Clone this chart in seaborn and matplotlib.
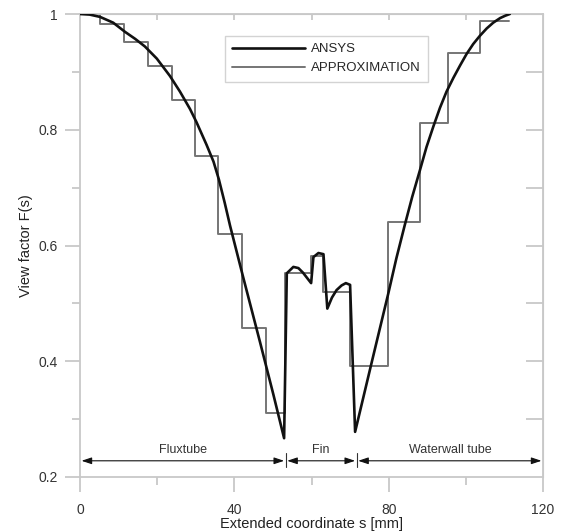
import matplotlib
matplotlib.use("Agg")
import matplotlib.pyplot as plt
import seaborn as sns
import pandas as pd

# ANSYS curve
ansys_s = [0.0, 2.5, 5.2, 8.6, 11.7, 14.3, 16.8, 19.9, 23.3, 25.9, 28.5, 30.2, 32.8, 34.6, 36.0,
           37.5, 38.9, 42.3, 46.7, 50.1, 52.9,
           53.6, 55.3, 56.6, 57.8, 59.9, 60.5, 61.8, 63.1, 64.1, 65.3, 66.5, 67.8, 68.9, 70.0, 71.3,
           75.6, 79.9, 82.0, 84.2, 86.1, 88.1, 89.8, 91.6, 93.3, 95.0, 96.8, 98.5, 100.2, 101.9,
           103.6, 105.4, 107.1, 108.9, 110.2, 111.4]
ansys_f = [1.000, 0.999, 0.995, 0.985, 0.969, 0.957, 0.944, 0.923, 0.893, 0.866, 0.836, 0.813, 0.774, 0.745, 0.714,
           0.674, 0.634, 0.545, 0.432, 0.343, 0.267,
           0.552, 0.563, 0.561, 0.553, 0.535, 0.580, 0.587, 0.585, 0.491, 0.510, 0.523, 0.531, 0.535, 0.532, 0.278,
           0.398, 0.517, 0.578, 0.636, 0.684, 0.730, 0.770, 0.806, 0.838, 0.866, 0.890, 0.911, 0.931, 0.948,
           0.962, 0.975, 0.985, 0.993, 0.997, 1.000]

# Step approximation (steps-post; last value repeated to close the final step)
approx_s = [0.0, 5.2, 11.4, 17.6, 23.8, 29.8, 35.8, 42.0, 48.2, 53.1, 59.9, 63.0, 70.0,
            79.8, 88.1, 95.4, 103.7, 111.2]
approx_f = [1.000, 0.982, 0.952, 0.910, 0.851, 0.755, 0.620, 0.458, 0.311, 0.553, 0.581, 0.520, 0.391,
            0.641, 0.812, 0.933, 0.988, 0.988]

# Sections
section_names = ["Fluxtube", "Fin", "Waterwall tube"]
section_bounds = [0.0, 53.3, 71.7, 120.0]

x_ticks = [0, 40, 80, 120]
y_ticks = [0.2, 0.4, 0.6, 0.8, 1.0]
y_tick_labels = ["0.2", "0.4", "0.6", "0.8", "1"]

sns.set_style("white")
plt.rcParams["font.family"] = ["Liberation Sans", "DejaVu Sans"]

fig = plt.figure(figsize=(5.61, 5.32), dpi=100)
ax = fig.add_axes([80/561, 1-477/532, (543-80)/561, (477-14)/532])

df_a = pd.DataFrame({"s": ansys_s, "F": ansys_f})
df_p = pd.DataFrame({"s": approx_s, "F": approx_f})

sns.lineplot(data=df_p, x="s", y="F", ax=ax, color="#757575", lw=1.4,
             drawstyle="steps-post", estimator=None, sort=False, label="APPROXIMATION", zorder=2)
sns.lineplot(data=df_a, x="s", y="F", ax=ax, color="#111111", lw=1.9,
             estimator=None, sort=False, label="ANSYS", zorder=3,
             solid_joinstyle="round", solid_capstyle="round")

ax.set_xlim(0, 120)
ax.set_ylim(0.2, 1.0)

gray = "#c8c8c8"
for sp in ax.spines.values():
    sp.set_color(gray)
    sp.set_linewidth(1.3)

ax.set_xticks(x_ticks)
ax.set_xticks([20, 60, 100], minor=True)
ax.set_yticks(y_ticks)
ax.set_yticklabels(y_tick_labels)
ax.set_yticks([0.3, 0.5, 0.7, 0.9], minor=True)
ax.tick_params(axis="both", which="both", bottom=True, left=True, top=False, right=False)
ax.tick_params(axis="both", which="major", direction="out", length=10.8, width=1.3,
               color=gray, labelsize=10, labelcolor="#333333")
ax.tick_params(axis="y", which="major", pad=5)
ax.tick_params(axis="x", which="major", pad=8)
ax.tick_params(axis="both", which="minor", direction="out", length=5.8, width=1.3, color=gray)

secx = ax.secondary_xaxis("top")
secx.set_xticks([20, 40, 60, 80, 100])
secx.tick_params(direction="in", length=4.5, width=1.3, color=gray, labeltop=False)
secx.spines["top"].set_color(gray)
secy = ax.secondary_yaxis("right")
secy.set_yticks([0.3, 0.4, 0.5, 0.6, 0.7, 0.8, 0.9])
secy.tick_params(direction="in", length=12, width=1.3, color=gray, labelright=False)
secy.spines["right"].set_color(gray)

ax.set_xlabel("Extended coordinate s [mm]", fontsize=10.5, color="#222222", labelpad=0)
ax.set_ylabel("View factor F(s)", fontsize=10.5, color="#222222", labelpad=4)

# Section arrows
arrow_y = 0.228
label_y = 0.247
for name, a, b in zip(section_names, section_bounds[:-1], section_bounds[1:]):
    ax.annotate("", xy=(a + 0.4, arrow_y), xytext=(b - 0.4, arrow_y),
                arrowprops=dict(arrowstyle="<|-|>,head_length=0.6,head_width=0.2",
                                color="#111111", lw=0.8, shrinkA=0, shrinkB=0))
    ax.text((a + b) / 2, label_y, name, ha="center", va="center", fontsize=9, color="#333333")
for b in section_bounds[1:-1]:
    ax.plot([b, b], [arrow_y - 0.011, arrow_y + 0.013], color="#333333", lw=0.8)

# Legend
handles, labels = ax.get_legend_handles_labels()
order = [labels.index("ANSYS"), labels.index("APPROXIMATION")]
leg = ax.legend([handles[i] for i in order], [labels[i] for i in order],
                loc="upper left", bbox_to_anchor=((225-80)/463, 1-(36-14)/463),
                frameon=True, fancybox=False, fontsize=9.5, handlelength=5.5,
                borderpad=0.55, labelspacing=0.5, handletextpad=0.5, borderaxespad=0)
leg.get_frame().set_edgecolor(gray)
leg.get_frame().set_linewidth(1.0)

fig.savefig("out.png", dpi=100)
